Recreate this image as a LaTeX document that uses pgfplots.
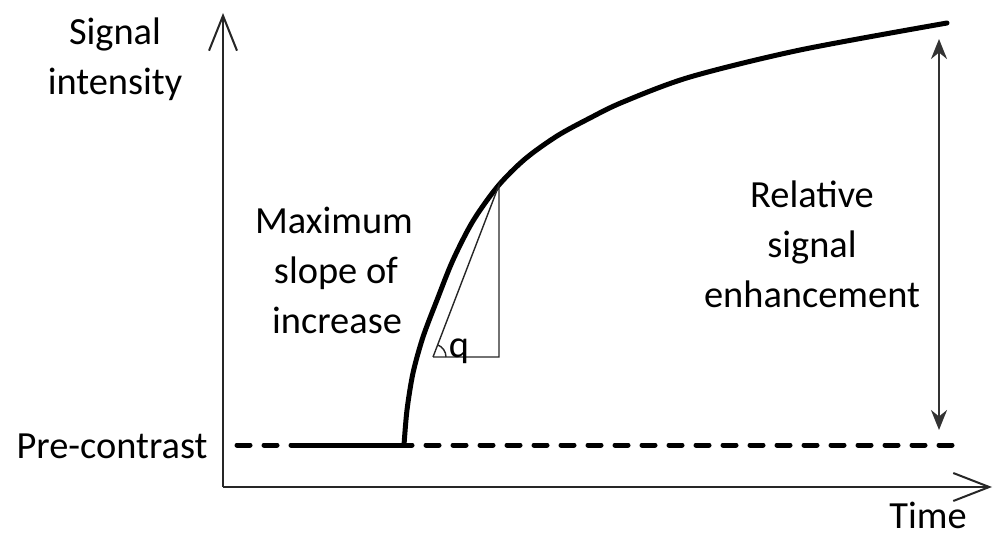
\documentclass[border=0pt]{standalone}
\usepackage{pgfplots}
\pgfplotsset{compat=1.18}
\usepackage{fontspec}
\setmainfont{Carlito}
\usetikzlibrary{arrows.meta}

% everything is placed in the pixel frame of the 996x535 sketch, 1px = 0.5pt
\tikzset{lbl/.style={anchor=base, inner sep=0pt, text=black,
  font=\fontsize{19.2pt}{24pt}\selectfont}}

\begin{document}
\begin{tikzpicture}
\begin{axis}[
  scale only axis,
  width=498pt, height=267.5pt,
  xmin=0, xmax=996, ymin=0, ymax=535,
  y dir=reverse,
  hide axis,
  clip=false,
  no markers,
]
  % frame for the bounding box
  \path (axis cs:0,0) rectangle (axis cs:996,535);

  % axes
  \addplot[black!85, line width=1pt, -{Straight Barb[length=17.5pt, width=14pt]}]
    coordinates {(223,487) (223,13)};
  \addplot[black!85, line width=1pt, -{Straight Barb[length=18pt, width=14pt]}]
    coordinates {(223,487) (992,487)};

  % pre-contrast baseline
  \addplot[black, line width=2.5pt, line cap=round, dash pattern=on 6.5pt off 7pt]
    coordinates {(237,445) (962,445)};

  % signal curve
  \addplot[black, line width=2.5pt, line cap=round]
    coordinates {(297,445) (404,445)};
  \addplot[black, line width=2.5pt, line cap=round, smooth]
    coordinates {
      (404,445) (407,410) (413,373) (423,337) (437,300) (453,260)
      (473,221) (498,186) (525,159) (557,136) (590,118) (623,102)
      (690,77) (800,50) (947,23)
    };

  % slope triangle
  \addplot[black!85, line width=0.7pt]
    coordinates {(433,357) (499,185) (499,357) (433,357)};
  \draw[black!85, line width=0.7pt] (axis cs:446,357) arc[start angle=0, end angle=69, radius=6.5pt];
  \node[lbl] at (axis cs:459,357) {q};

  % relative enhancement arrow
  \addplot[black!80, line width=1.2pt,
    {Stealth[length=10pt, width=8pt]}-{Stealth[length=10pt, width=8pt]}]
    coordinates {(939,430) (939,39)};

  % labels
  \node[lbl] at (axis cs:115,45) {Signal};
  \node[lbl] at (axis cs:115,95) {intensity};
  \node[lbl] at (axis cs:112,458) {Pre-contrast};
  \node[lbl] at (axis cs:928,528) {Time};
  \node[lbl] at (axis cs:334,233) {Maximum};
  \node[lbl] at (axis cs:336,283) {slope of};
  \node[lbl] at (axis cs:337,333) {increase};
  \node[lbl] at (axis cs:812,207) {Relative};
  \node[lbl] at (axis cs:812,257) {signal};
  \node[lbl] at (axis cs:812,307) {enhancement};
\end{axis}
\end{tikzpicture}
\end{document}
